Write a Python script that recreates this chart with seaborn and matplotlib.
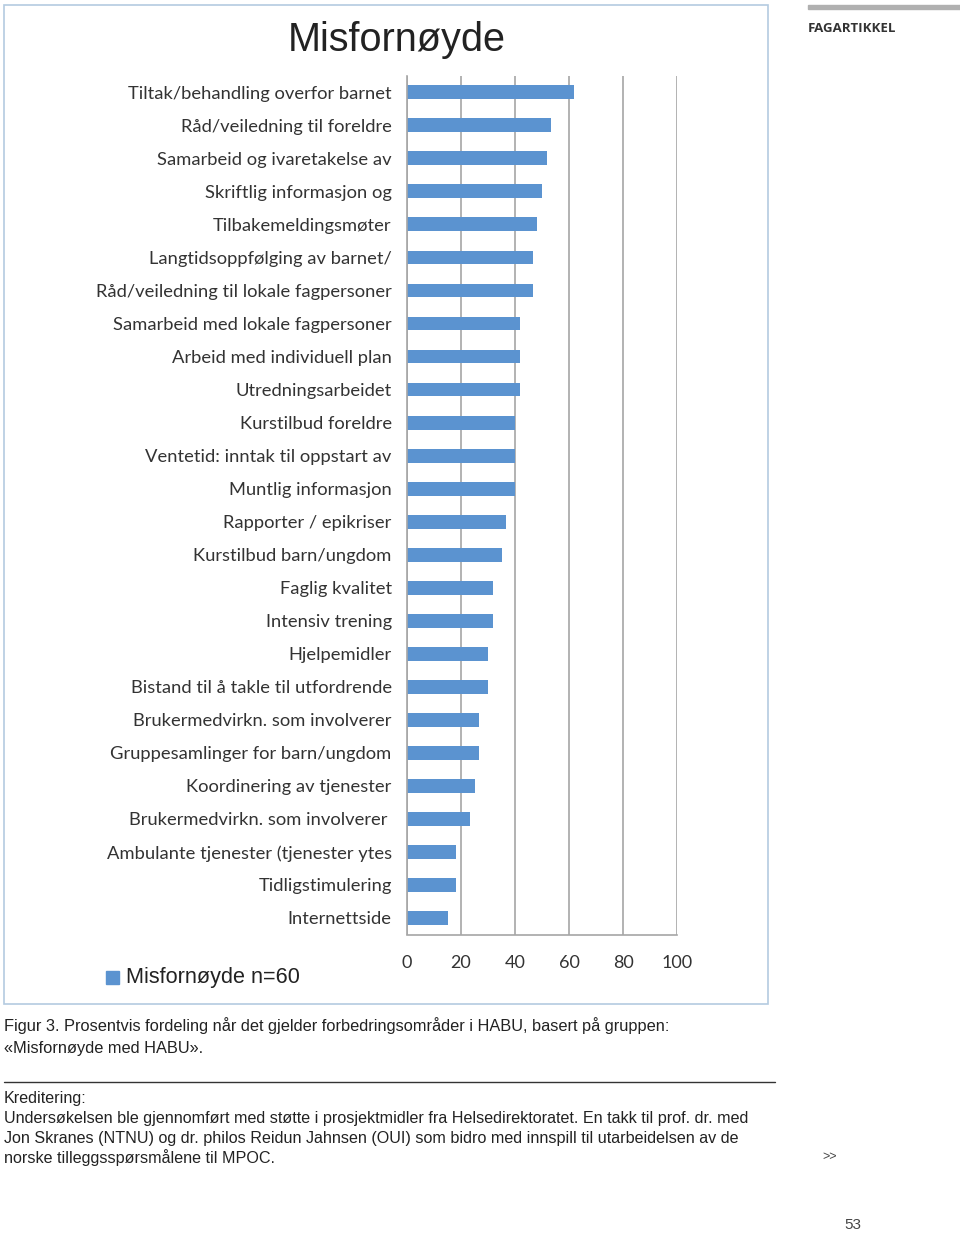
import matplotlib
matplotlib.use("Agg")
import matplotlib.pyplot as plt
import matplotlib.patches as mpatches
import seaborn as sns
import pandas as pd

# forbedringsområder (percent of n=60)
labels = [
    "Tiltak/behandling overfor barnet",
    "Råd/veiledning til foreldre",
    "Samarbeid og ivaretakelse av",
    "Skriftlig informasjon og",
    "Tilbakemeldingsmøter",
    "Langtidsoppfølging av barnet/",
    "Råd/veiledning til lokale fagpersoner",
    "Samarbeid med lokale fagpersoner",
    "Arbeid med individuell plan",
    "Utredningsarbeidet",
    "Kurstilbud foreldre",
    "Ventetid: inntak til oppstart av",
    "Muntlig informasjon",
    "Rapporter / epikriser",
    "Kurstilbud barn/ungdom",
    "Faglig kvalitet",
    "Intensiv trening",
    "Hjelpemidler",
    "Bistand til å takle til utfordrende",
    "Brukermedvirkn. som involverer",
    "Gruppesamlinger for barn/ungdom",
    "Koordinering av tjenester",
    "Brukermedvirkn. som involverer ",
    "Ambulante tjenester (tjenester ytes",
    "Tidligstimulering",
    "Internettside",
]
values = [61.7, 53.3, 51.7, 50.0, 48.3, 46.7, 46.7, 41.7, 41.7, 41.7, 40.0, 40.0, 40.0,
          36.7, 35.0, 31.7, 31.7, 30.0, 30.0, 26.7, 26.7, 25.0, 23.3, 18.3, 18.3, 15.0]
xticks = [0, 20, 40, 60, 80, 100]

BAR = "#5b93d0"
GRID = "#a6a6a6"
W, H = 960, 1234

df = pd.DataFrame({"omrade": labels, "prosent": values})

sns.set_theme(style="white")
fig = plt.figure(figsize=(W / 100, H / 100), dpi=100)

def fx(px):
    return px / W

def fy(py):
    return 1 - py / H

# frame around the chart
fig.patches.append(mpatches.Rectangle((fx(4), fy(1004)), fx(764), 999 / H,
                                      transform=fig.transFigure, fill=False,
                                      edgecolor="#b4cbe0", lw=1.2))

ax = fig.add_axes([fx(407), fy(934.5), fx(270), 858.7 / H])
sns.barplot(data=df, x="prosent", y="omrade", color=BAR, width=0.42,
            saturation=1, ax=ax, orient="h", linewidth=0)
ax.set_xlim(0, 100)
ax.set_ylim(len(labels) - 0.5, -0.5)
ax.set_xticks(xticks)
ax.set_xticklabels([str(t) for t in xticks])
ax.set_xlabel("")
ax.set_ylabel("")
ax.xaxis.grid(True, color=GRID, lw=1.2)
ax.set_axisbelow(True)
for s in ["top", "right"]:
    ax.spines[s].set_visible(False)
for s in ["left", "bottom"]:
    ax.spines[s].set_color(GRID)
    ax.spines[s].set_linewidth(1.2)

# category tick marks sit between the bars, like Excel
ax.set_yticks([i + 0.5 for i in range(-1, len(labels))], minor=True)
ax.tick_params(axis="y", which="minor", length=5, color=GRID, width=1, direction="out")
ax.tick_params(axis="y", which="major", length=0, pad=11, labelsize=13.2,
               labelcolor="#333333")
ax.tick_params(axis="x", length=5, color=GRID, width=1, pad=10, labelsize=13,
               labelcolor="#333333")
for t in ax.get_yticklabels() + ax.get_xticklabels():
    t.set_family(["Lato", "DejaVu Sans"])

# title and legend
fig.text(fx(397), fy(40), "Misfornøyde", ha="center", va="center", fontsize=28.5,
         family=["Liberation Sans", "DejaVu Sans"], color="#222222")
fig.patches.append(mpatches.Rectangle((fx(106), fy(984)), fx(13), 13 / H,
                                      transform=fig.transFigure, color=BAR))
fig.text(fx(126), fy(977), "Misfornøyde n=60", ha="left", va="center", fontsize=15.6,
         family=["Liberation Sans", "DejaVu Sans"], color="#222222")

# page text
cap = ["Liberation Sans", "DejaVu Sans"]
fig.text(fx(4), fy(1026), "Figur 3. Prosentvis fordeling når det gjelder forbedringsområder i HABU, basert på gruppen:",
         ha="left", va="center", fontsize=11.8, family=cap, color="#222222")
fig.text(fx(4), fy(1048), "«Misfornøyde med HABU».", ha="left", va="center",
         fontsize=11.8, family=cap, color="#222222")
fig.lines.append(plt.Line2D([fx(4), fx(775)], [fy(1082), fy(1082)],
                            transform=fig.transFigure, color="#333333", lw=1))
credit = [
    "Kreditering:",
    "Undersøkelsen ble gjennomført med støtte i prosjektmidler fra Helsedirektoratet. En takk til prof. dr. med",
    "Jon Skranes (NTNU) og dr. philos Reidun Jahnsen (OUI) som bidro med innspill til utarbeidelsen av de",
    "norske tilleggsspørsmålene til MPOC.",
]
for i, line in enumerate(credit):
    fig.text(fx(4), fy(1098 + 20 * i), line, ha="left", va="center", fontsize=11.6,
             family=cap, color="#222222")
fig.text(fx(822), fy(1157), ">>", ha="left", va="center", fontsize=9, family=cap,
         color="#444444")
fig.text(fx(844), fy(1225), "53", ha="left", va="center", fontsize=11, family=cap,
         color="#444444")
fig.text(fx(808), fy(28), "FAGARTIKKEL", ha="left", va="center", fontsize=9.5,
         weight="bold", family=["Open Sans", "DejaVu Sans"], color="#333333")
fig.patches.append(mpatches.Rectangle((fx(808), fy(9)), fx(152), 4 / H,
                                      transform=fig.transFigure, color="#b0b0b0"))

fig.savefig("out.png", dpi=100)
